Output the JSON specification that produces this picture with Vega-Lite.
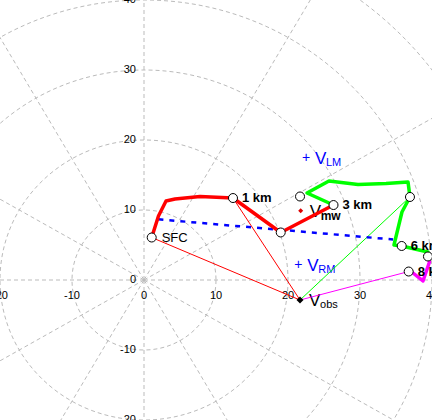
{
  "$schema": "https://vega.github.io/schema/vega-lite/v6.json",
  "width": 432,
  "height": 420,
  "autosize": "none",
  "padding": 0,
  "background": "white",
  "config": {"view": {"stroke": null}, "font": "Liberation Sans"},
  "resolve": {"scale": {"color": "independent", "size": "independent"}},
  "datasets": {
    "rings": [
      {"u": 0, "v": 0, "r": 10}, {"u": 0, "v": 0, "r": 20}, {"u": 0, "v": 0, "r": 30},
      {"u": 0, "v": 0, "r": 40}, {"u": 0, "v": 0, "r": 50}, {"u": 0, "v": 0, "r": 60}
    ],
    "spokes": [
      {"angle": 0, "u": 0, "v": 0, "u2": 80, "v2": 0},
      {"angle": 30, "u": 0, "v": 0, "u2": 69.28, "v2": 40},
      {"angle": 60, "u": 0, "v": 0, "u2": 40, "v2": 69.28},
      {"angle": 90, "u": 0, "v": 0, "u2": 0, "v2": 80},
      {"angle": 120, "u": 0, "v": 0, "u2": -40, "v2": 69.28},
      {"angle": 150, "u": 0, "v": 0, "u2": -69.28, "v2": 40},
      {"angle": 180, "u": 0, "v": 0, "u2": -80, "v2": 0},
      {"angle": 210, "u": 0, "v": 0, "u2": -69.28, "v2": -40},
      {"angle": 240, "u": 0, "v": 0, "u2": -40, "v2": -69.28},
      {"angle": 270, "u": 0, "v": 0, "u2": 0, "v2": -80},
      {"angle": 300, "u": 0, "v": 0, "u2": 40, "v2": -69.28},
      {"angle": 330, "u": 0, "v": 0, "u2": 69.28, "v2": -40}
    ],
    "xlab": [
      {"u": -20, "v": 0, "t": "-20"}, {"u": -10, "v": 0, "t": "-10"}, {"u": 0, "v": 0, "t": "0"},
      {"u": 10, "v": 0, "t": "10"}, {"u": 20, "v": 0, "t": "20"}, {"u": 30, "v": 0, "t": "30"},
      {"u": 40, "v": 0, "t": "40"}
    ],
    "ylab": [
      {"u": 0, "v": -20, "t": "-20"}, {"u": 0, "v": -10, "t": "-10"}, {"u": 0, "v": 0, "t": "0"},
      {"u": 0, "v": 10, "t": "10"}, {"u": 0, "v": 20, "t": "20"}, {"u": 0, "v": 30, "t": "30"},
      {"u": 0, "v": 40, "t": "40"}
    ],
    "shear": [
      {"i": 0, "u": 2.0, "v": 8.67},
      {"i": 1, "u": 34.6, "v": 5.79}
    ],
    "hodo": [
      {"seg": "0-3 km", "i": 0, "u": 1.07, "v": 6.07},
      {"seg": "0-3 km", "i": 1, "u": 2.01, "v": 9.14},
      {"seg": "0-3 km", "i": 2, "u": 3.06, "v": 11.29},
      {"seg": "0-3 km", "i": 3, "u": 4.31, "v": 11.57},
      {"seg": "0-3 km", "i": 4, "u": 7.78, "v": 11.93},
      {"seg": "0-3 km", "i": 5, "u": 12.36, "v": 11.71},
      {"seg": "0-3 km", "i": 6, "u": 18.99, "v": 6.79},
      {"seg": "0-3 km", "i": 7, "u": 26.32, "v": 10.71},
      {"seg": "3-7 km", "i": 0, "u": 26.32, "v": 10.71},
      {"seg": "3-7 km", "i": 1, "u": 22.64, "v": 12.43},
      {"seg": "3-7 km", "i": 2, "u": 25.69, "v": 14.14},
      {"seg": "3-7 km", "i": 3, "u": 29.72, "v": 13.64},
      {"seg": "3-7 km", "i": 4, "u": 33.61, "v": 13.79},
      {"seg": "3-7 km", "i": 5, "u": 36.67, "v": 14.0},
      {"seg": "3-7 km", "i": 6, "u": 36.94, "v": 11.86},
      {"seg": "3-7 km", "i": 7, "u": 35.83, "v": 9.71},
      {"seg": "3-7 km", "i": 8, "u": 34.72, "v": 5.0},
      {"seg": "3-7 km", "i": 9, "u": 35.79, "v": 4.86},
      {"seg": "3-7 km", "i": 10, "u": 39.44, "v": 4.0},
      {"seg": "3-7 km", "i": 11, "u": 39.44, "v": 3.36},
      {"seg": "7-8 km", "i": 0, "u": 39.44, "v": 3.36},
      {"seg": "7-8 km", "i": 1, "u": 39.65, "v": 2.57},
      {"seg": "7-8 km", "i": 2, "u": 38.75, "v": -0.14},
      {"seg": "7-8 km", "i": 3, "u": 37.36, "v": 1.0},
      {"seg": "7-8 km", "i": 4, "u": 36.76, "v": 1.21}
    ],
    "obslines": [
      {"seg": "0-3 km", "u": 21.67, "v": -2.86, "u2": 1.07, "v2": 6.07},
      {"seg": "0-3 km", "u": 21.67, "v": -2.86, "u2": 12.36, "v2": 11.71},
      {"seg": "3-7 km", "u": 21.67, "v": -2.86, "u2": 36.94, "v2": 11.86},
      {"seg": "7-8 km", "u": 21.67, "v": -2.86, "u2": 36.76, "v2": 1.21}
    ],
    "levels": [
      {"km": 0, "name": "SFC", "u": 1.07, "v": 6.07},
      {"km": 1, "name": "1 km", "u": 12.36, "v": 11.71},
      {"km": 2, "name": "", "u": 18.99, "v": 6.79},
      {"km": 3, "name": "3 km", "u": 26.32, "v": 10.71},
      {"km": 4, "name": "", "u": 21.67, "v": 11.93},
      {"km": 5, "name": "", "u": 36.94, "v": 11.86},
      {"km": 6, "name": "6 km", "u": 35.79, "v": 4.86},
      {"km": 7, "name": "", "u": 39.44, "v": 3.36},
      {"km": 8, "name": "8 km", "u": 36.76, "v": 1.21}
    ],
    "vectors": [
      {"name": "LM", "u": 22.5, "v": 17.39},
      {"name": "RM", "u": 21.43, "v": 2.14},
      {"name": "mw", "u": 21.76, "v": 9.9},
      {"name": "obs", "u": 21.67, "v": -2.86}
    ]
  },
  "layer": [
    {
      "data": {"name": "rings"},
      "mark": {"type": "point", "shape": "M 1 0 C 1 0.53694 0.55228 0.97222 0 0.97222 C -0.55228 0.97222 -1 0.53694 -1 0 C -1 -0.53694 -0.55228 -0.97222 0 -0.97222 C 0.55228 -0.97222 1 -0.53694 1 0 Z", "filled": false, "color": "#bbbbbb", "strokeWidth": 1, "strokeDash": [4, 3], "opacity": 1, "clip": true},
      "encoding": {
        "x": {"field": "u", "type": "quantitative", "scale": {"domain": [-20, 40], "nice": false, "zero": false}, "axis": null},
        "y": {"field": "v", "type": "quantitative", "scale": {"domain": [-20, 40], "nice": false, "zero": false}, "axis": null},
        "size": {"field": "r", "type": "quantitative", "scale": {"type": "pow", "exponent": 2, "domain": [0, 60], "range": [0, 746496]}, "legend": null}
      }
    },
    {
      "data": {"name": "spokes"},
      "mark": {"type": "rule", "color": "#bbbbbb", "strokeWidth": 1, "strokeDash": [4, 3], "clip": true},
      "encoding": {
        "x": {"field": "u", "type": "quantitative", "scale": {"domain": [-20, 40], "nice": false, "zero": false}, "axis": null},
        "y": {"field": "v", "type": "quantitative", "scale": {"domain": [-20, 40], "nice": false, "zero": false}, "axis": null},
        "x2": {"field": "u2"},
        "y2": {"field": "v2"}
      }
    },
    {
      "data": {"name": "xlab"},
      "mark": {"type": "text", "fontSize": 11, "color": "black", "align": "center", "baseline": "middle", "dy": 16},
      "encoding": {
        "x": {"field": "u", "type": "quantitative", "scale": {"domain": [-20, 40], "nice": false, "zero": false}, "axis": null},
        "y": {"field": "v", "type": "quantitative", "scale": {"domain": [-20, 40], "nice": false, "zero": false}, "axis": null},
        "text": {"field": "t", "type": "nominal"}
      }
    },
    {
      "data": {"name": "ylab"},
      "mark": {"type": "text", "fontSize": 11, "color": "black", "align": "right", "baseline": "middle", "dx": -8},
      "encoding": {
        "x": {"field": "u", "type": "quantitative", "scale": {"domain": [-20, 40], "nice": false, "zero": false}, "axis": null},
        "y": {"field": "v", "type": "quantitative", "scale": {"domain": [-20, 40], "nice": false, "zero": false}, "axis": null},
        "text": {"field": "t", "type": "nominal"}
      }
    },
    {
      "data": {"name": "vectors"},
      "transform": [{"filter": {"field": "name", "oneOf": ["LM", "RM"]}}],
      "mark": {"type": "text", "text": "+", "fontSize": 14, "color": "#0000ff", "align": "center", "baseline": "middle"},
      "encoding": {
        "x": {"field": "u", "type": "quantitative", "scale": {"domain": [-20, 40], "nice": false, "zero": false}, "axis": null},
        "y": {"field": "v", "type": "quantitative", "scale": {"domain": [-20, 40], "nice": false, "zero": false}, "axis": null}
      }
    },
    {
      "data": {"name": "vectors"},
      "mark": {"type": "text", "text": "V", "fontSize": 17, "align": "left", "baseline": "alphabetic", "dx": 9, "dy": 6},
      "encoding": {
        "x": {"field": "u", "type": "quantitative", "scale": {"domain": [-20, 40], "nice": false, "zero": false}, "axis": null},
        "y": {"field": "v", "type": "quantitative", "scale": {"domain": [-20, 40], "nice": false, "zero": false}, "axis": null},
        "color": {"field": "name", "type": "nominal", "scale": {"domain": ["LM", "RM", "mw", "obs"], "range": ["#0000ff", "#0000ff", "#000000", "#000000"]}, "legend": null}
      }
    },
    {
      "data": {"name": "vectors"},
      "transform": [{"filter": {"field": "name", "oneOf": ["LM", "RM"]}}],
      "mark": {"type": "text", "fontSize": 11, "color": "#0000ff", "align": "left", "baseline": "alphabetic", "dx": 20, "dy": 8},
      "encoding": {
        "x": {"field": "u", "type": "quantitative", "scale": {"domain": [-20, 40], "nice": false, "zero": false}, "axis": null},
        "y": {"field": "v", "type": "quantitative", "scale": {"domain": [-20, 40], "nice": false, "zero": false}, "axis": null},
        "text": {"field": "name", "type": "nominal"}
      }
    },
    {
      "data": {"name": "vectors"},
      "transform": [{"filter": {"field": "name", "equal": "obs"}}],
      "mark": {"type": "text", "fontSize": 11, "color": "#000000", "align": "left", "baseline": "alphabetic", "dx": 20, "dy": 8},
      "encoding": {
        "x": {"field": "u", "type": "quantitative", "scale": {"domain": [-20, 40], "nice": false, "zero": false}, "axis": null},
        "y": {"field": "v", "type": "quantitative", "scale": {"domain": [-20, 40], "nice": false, "zero": false}, "axis": null},
        "text": {"field": "name", "type": "nominal"}
      }
    },
    {
      "data": {"name": "vectors"},
      "transform": [{"filter": {"field": "name", "equal": "mw"}}],
      "mark": {"type": "text", "fontSize": 12, "fontWeight": "bold", "color": "black", "align": "left", "baseline": "alphabetic", "dx": 20, "dy": 9},
      "encoding": {
        "x": {"field": "u", "type": "quantitative", "scale": {"domain": [-20, 40], "nice": false, "zero": false}, "axis": null},
        "y": {"field": "v", "type": "quantitative", "scale": {"domain": [-20, 40], "nice": false, "zero": false}, "axis": null},
        "text": {"field": "name", "type": "nominal"}
      }
    },
    {
      "data": {"name": "obslines"},
      "mark": {"type": "rule", "strokeWidth": 1},
      "encoding": {
        "x": {"field": "u", "type": "quantitative", "scale": {"domain": [-20, 40], "nice": false, "zero": false}, "axis": null},
        "y": {"field": "v", "type": "quantitative", "scale": {"domain": [-20, 40], "nice": false, "zero": false}, "axis": null},
        "x2": {"field": "u2"},
        "y2": {"field": "v2"},
        "color": {"field": "seg", "type": "nominal", "scale": {"domain": ["0-3 km", "3-7 km", "7-8 km"], "range": ["#ff0000", "#00ff00", "#ff00ff"]}, "legend": null}
      }
    },
    {
      "data": {"name": "shear"},
      "mark": {"type": "line", "color": "#0000ff", "strokeWidth": 2.5, "strokeDash": [5, 6]},
      "encoding": {
        "x": {"field": "u", "type": "quantitative", "scale": {"domain": [-20, 40], "nice": false, "zero": false}, "axis": null},
        "y": {"field": "v", "type": "quantitative", "scale": {"domain": [-20, 40], "nice": false, "zero": false}, "axis": null},
        "order": {"field": "i", "type": "quantitative"}
      }
    },
    {
      "data": {"name": "hodo"},
      "mark": {"type": "line", "strokeWidth": 3.5, "strokeJoin": "round", "clip": true},
      "encoding": {
        "x": {"field": "u", "type": "quantitative", "scale": {"domain": [-20, 40], "nice": false, "zero": false}, "axis": null},
        "y": {"field": "v", "type": "quantitative", "scale": {"domain": [-20, 40], "nice": false, "zero": false}, "axis": null},
        "order": {"field": "i", "type": "quantitative"},
        "color": {"field": "seg", "type": "nominal", "scale": {"domain": ["0-3 km", "3-7 km", "7-8 km"], "range": ["#ff0000", "#00ff00", "#ff00ff"]}, "legend": null}
      }
    },
    {
      "data": {"name": "levels"},
      "mark": {"type": "point", "shape": "circle", "size": 81, "filled": true, "fill": "white", "stroke": "black", "strokeWidth": 1, "opacity": 1},
      "encoding": {
        "x": {"field": "u", "type": "quantitative", "scale": {"domain": [-20, 40], "nice": false, "zero": false}, "axis": null},
        "y": {"field": "v", "type": "quantitative", "scale": {"domain": [-20, 40], "nice": false, "zero": false}, "axis": null}
      }
    },
    {
      "data": {"name": "levels"},
      "transform": [{"filter": {"field": "km", "equal": 0}}],
      "mark": {"type": "text", "fontSize": 13, "color": "black", "align": "left", "baseline": "middle", "dx": 10},
      "encoding": {
        "x": {"field": "u", "type": "quantitative", "scale": {"domain": [-20, 40], "nice": false, "zero": false}, "axis": null},
        "y": {"field": "v", "type": "quantitative", "scale": {"domain": [-20, 40], "nice": false, "zero": false}, "axis": null},
        "text": {"field": "name", "type": "nominal"}
      }
    },
    {
      "data": {"name": "levels"},
      "transform": [{"filter": {"field": "km", "oneOf": [1, 3, 6, 8]}}],
      "mark": {"type": "text", "fontSize": 13, "fontWeight": "bold", "color": "black", "align": "left", "baseline": "middle", "dx": 9},
      "encoding": {
        "x": {"field": "u", "type": "quantitative", "scale": {"domain": [-20, 40], "nice": false, "zero": false}, "axis": null},
        "y": {"field": "v", "type": "quantitative", "scale": {"domain": [-20, 40], "nice": false, "zero": false}, "axis": null},
        "text": {"field": "name", "type": "nominal"}
      }
    },
    {
      "data": {"name": "vectors"},
      "transform": [{"filter": {"field": "name", "equal": "mw"}}],
      "mark": {"type": "point", "shape": "diamond", "filled": true, "opacity": 1, "color": "#dd0000", "size": 25},
      "encoding": {
        "x": {"field": "u", "type": "quantitative", "scale": {"domain": [-20, 40], "nice": false, "zero": false}, "axis": null},
        "y": {"field": "v", "type": "quantitative", "scale": {"domain": [-20, 40], "nice": false, "zero": false}, "axis": null}
      }
    },
    {
      "data": {"name": "vectors"},
      "transform": [{"filter": {"field": "name", "equal": "obs"}}],
      "mark": {"type": "point", "shape": "diamond", "filled": true, "opacity": 1, "color": "#000000", "size": 49},
      "encoding": {
        "x": {"field": "u", "type": "quantitative", "scale": {"domain": [-20, 40], "nice": false, "zero": false}, "axis": null},
        "y": {"field": "v", "type": "quantitative", "scale": {"domain": [-20, 40], "nice": false, "zero": false}, "axis": null}
      }
    }
  ]
}
